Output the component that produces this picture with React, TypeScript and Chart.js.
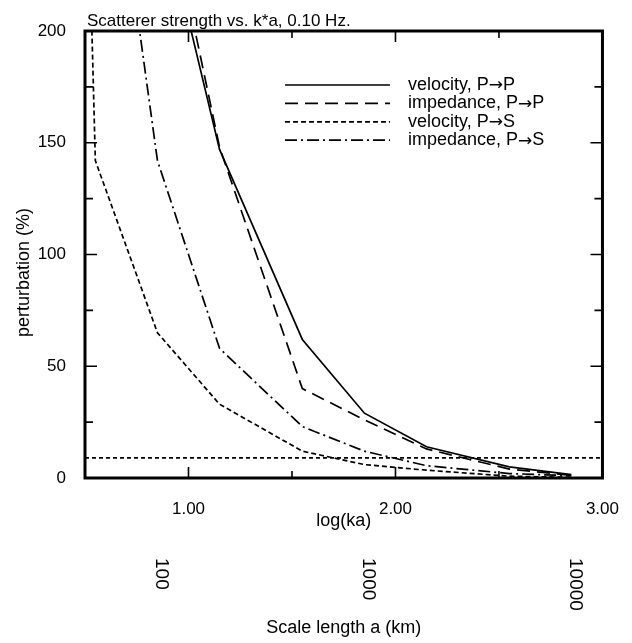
import React, { useEffect, useRef } from "react";
import { Chart, registerables } from "chart.js";

Chart.register(...registerables);

// log(ka) sample positions (scale lengths a = 40, 50, 100, 200, 500, 1000, 2000, 5000, 10000 km)
const logKa = [0.45, 0.55, 0.85, 1.15, 1.55, 1.85, 2.15, 2.55, 2.85];

// perturbation (%) needed, per scatterer type
const velocityPP = [520, 400, 263, 147, 62, 29, 14, 5, 1.5];
const impedancePP = [560, 430, 280, 148, 40, 26, 13, 4, 1.2];
const velocityPS = [490, 142, 65, 33, 12, 6, 3.5, 0.8, 0.3];
const impedancePS = [460, 344, 142, 58, 23, 12, 5.5, 2, 1];

// horizontal reference level
const refX = [0.5, 3.0];
const refLevel = [9, 9];

// secondary axis: scale length a (km)
const scaleLengthLabels = ["100", "1000", "10000"];
const scaleLengthPos = [0.87, 1.87, 2.87];

const seriesLabels = ["velocity, P\u2192P", "impedance, P\u2192P", "velocity, P\u2192S", "impedance, P\u2192S"];
const seriesDash: number[][] = [[], [13, 7], [5, 3], [12, 4, 2, 4]];

const FONT = "'Liberation Sans', Arial, Helvetica, sans-serif";
const ARROW_FONT = "'DejaVu Sans', sans-serif";
const TITLE = "Scatterer strength vs. k*a, 0.10 Hz.";
const Y_TITLE = "perturbation (%)";

const isMajor = (v: number, step: number) => Math.abs(v / step - Math.round(v / step)) < 1e-6;

export default function App() {
  const ref = useRef<HTMLCanvasElement>(null);

  useEffect(() => {
    document.body.style.margin = "0";
    document.body.style.overflow = "hidden";
    const canvas = ref.current!;
    const all = [velocityPP, impedancePP, velocityPS, impedancePS];
    const datasets: any[] = all.map((ys, i) => ({
      label: seriesLabels[i],
      data: logKa.map((x, j) => ({ x, y: ys[j] })),
      borderColor: "#000",
      borderWidth: 1.7,
      borderDash: seriesDash[i],
      pointRadius: 0,
      fill: false,
      tension: 0,
    }));
    datasets.push({
      label: "reference",
      data: refX.map((x, j) => ({ x, y: refLevel[j] })),
      borderColor: "#000",
      borderWidth: 1.6,
      borderDash: [4, 3],
      pointRadius: 0,
      fill: false,
    });

    const decor = {
      id: "decor",
      afterDraw(chart: any) {
        const ctx = chart.ctx as CanvasRenderingContext2D;
        const { left, right, top, bottom } = chart.chartArea;
        const xs = chart.scales.x;
        const ys = chart.scales.y;
        const x2 = chart.scales.x2;
        ctx.save();
        ctx.strokeStyle = "#000";
        ctx.fillStyle = "#000";
        ctx.setLineDash([]);
        // inward ticks
        ctx.lineWidth = 1.6;
        ctx.beginPath();
        xs.ticks.forEach((t: any) => {
          const px = xs.getPixelForValue(t.value);
          if (px <= left + 1 || px >= right - 1) return;
          const len = isMajor(t.value, 1) ? 11 : 7;
          ctx.moveTo(px, bottom);
          ctx.lineTo(px, bottom - len);
          ctx.moveTo(px, top);
          ctx.lineTo(px, top + len);
        });
        ys.ticks.forEach((t: any) => {
          const py = ys.getPixelForValue(t.value);
          if (py <= top + 1 || py >= bottom - 1) return;
          const len = isMajor(t.value, 50) ? 12 : 8;
          ctx.moveTo(left, py);
          ctx.lineTo(left + len, py);
          ctx.moveTo(right, py);
          ctx.lineTo(right - len, py);
        });
        ctx.stroke();
        // frame
        ctx.lineWidth = 3;
        ctx.strokeRect(left, top, right - left, bottom - top);
        // title
        ctx.font = `17px ${FONT}`;
        ctx.textAlign = "left";
        ctx.textBaseline = "alphabetic";
        ctx.fillText(TITLE, left + 2, top - 5);
        // y-axis title
        ctx.save();
        ctx.font = `18px ${FONT}`;
        ctx.translate(24, (top + bottom) / 2 + 18);
        ctx.rotate(-Math.PI / 2);
        ctx.textAlign = "center";
        ctx.textBaseline = "middle";
        ctx.fillText(Y_TITLE, 0, 0);
        ctx.restore();
        // legend
        ctx.lineWidth = 1.7;
        seriesLabels.forEach((lab, i) => {
          const y = top + 54 + i * 18.4;
          ctx.setLineDash(seriesDash[i]);
          ctx.beginPath();
          ctx.moveTo(left + 200, y);
          ctx.lineTo(left + 305, y);
          ctx.stroke();
          ctx.setLineDash([]);
          ctx.textAlign = "left";
          ctx.textBaseline = "middle";
          // draw text pieces; the arrow uses a font with a full-size arrow glyph
          const parts = lab.split("\u2192");
          let x = left + 323;
          parts.forEach((p, k) => {
            ctx.font = `18px ${FONT}`;
            ctx.fillText(p, x, y);
            x += ctx.measureText(p).width;
            if (k < parts.length - 1) {
              ctx.font = `17px ${ARROW_FONT}`;
              ctx.fillText("\u2192", x, y + 1);
              x += ctx.measureText("\u2192").width;
            }
          });
        });
        // secondary axis labels (rotated clockwise)
        ctx.font = `19px ${FONT}`;
        x2.ticks.forEach((t: any, i: number) => {
          const px = x2.getPixelForValue(t.value);
          ctx.save();
          ctx.translate(px, x2.top + 26);
          ctx.rotate(Math.PI / 2);
          ctx.textAlign = "left";
          ctx.textBaseline = "middle";
          ctx.fillText(scaleLengthLabels[i], 0, 0);
          ctx.restore();
        });
        ctx.restore();
      },
    };

    const tickFont = { family: FONT, size: 17 };
    const titleFont = { family: FONT, size: 18 };
    const chart = new Chart(canvas, {
      type: "line",
      data: { datasets },
      options: {
        animation: false,
        responsive: true,
        maintainAspectRatio: false,
        layout: { padding: { top: 31, right: 29, left: 0, bottom: 0 } },
        plugins: { legend: { display: false }, tooltip: { enabled: false }, title: { display: false } },
        scales: {
          x: {
            type: "linear",
            position: "bottom",
            min: 0.5,
            max: 3,
            grid: { display: false },
            border: { display: false },
            ticks: {
              stepSize: 0.5,
              autoSkip: false,
              maxRotation: 0,
              padding: 13,
              color: "#000",
              font: tickFont,
              callback: (v: any) => (isMajor(Number(v), 1) ? Number(v).toFixed(2) : ""),
            },
            title: { display: true, text: "log(ka)", color: "#000", font: titleFont, padding: { top: 0, bottom: 0 } },
            afterFit: (s: any) => {
              s.height = 54;
            },
          },
          x2: {
            type: "linear",
            position: "bottom",
            min: 0.5,
            max: 3,
            grid: { display: false },
            border: { display: false },
            ticks: { display: false },
            afterBuildTicks: (s: any) => {
              s.ticks = scaleLengthPos.map((v) => ({ value: v }));
            },
            title: { display: true, text: "Scale length a (km)", color: "#000", font: titleFont, padding: { top: 0, bottom: 4 } },
            afterFit: (s: any) => {
              s.height = 111;
            },
          },
          y: {
            min: 0,
            max: 200,
            grid: { display: false },
            border: { display: false },
            ticks: {
              stepSize: 25,
              padding: 11,
              color: "#000",
              font: tickFont,
              callback: (v: any) => (isMajor(Number(v), 50) ? String(v) : ""),
            },
            title: { display: false },
            afterFit: (s: any) => {
              s.width = 85;
            },
          },
        },
      },
      plugins: [decor],
    } as any);
    return () => chart.destroy();
  }, []);

  return (
    <div style={{ width: 632, height: 643, position: "relative", background: "#fff" }}>
      <canvas ref={ref} />
    </div>
  );
}
